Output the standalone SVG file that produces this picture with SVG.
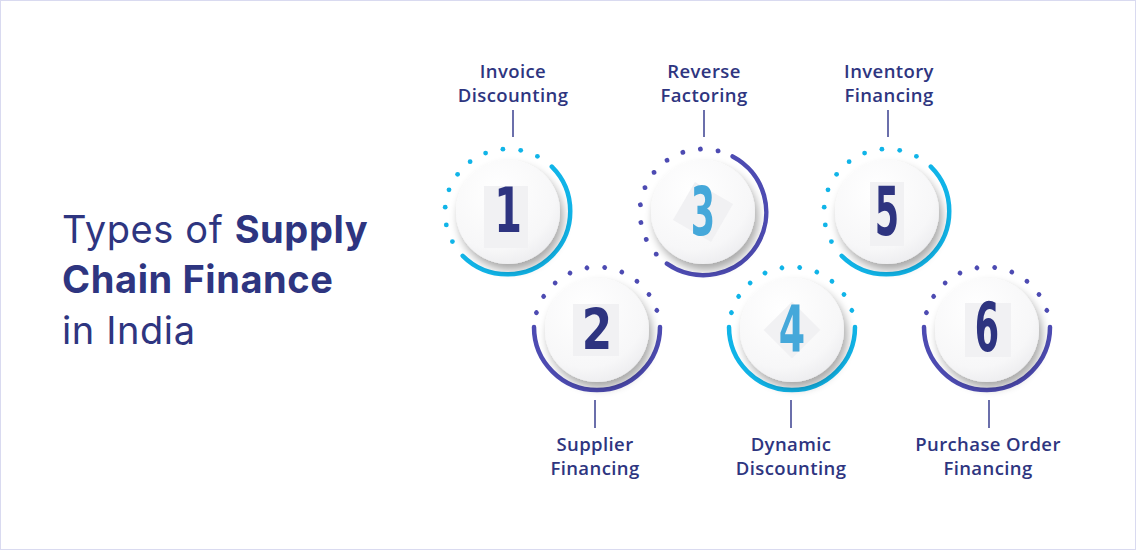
<svg xmlns="http://www.w3.org/2000/svg" width="1136" height="550" viewBox="0 0 1136 550">
<defs>
<radialGradient id="face" cx="0.4" cy="0.3" r="0.8"><stop offset="0" stop-color="#ffffff"/><stop offset="0.7" stop-color="#f7f7f8"/><stop offset="1" stop-color="#e9e9ec"/></radialGradient>
<filter id="sh" x="-40%" y="-40%" width="180%" height="180%"><feGaussianBlur in="SourceAlpha" stdDeviation="5"/><feOffset dx="3" dy="6"/><feComponentTransfer><feFuncA type="linear" slope="0.35"/></feComponentTransfer><feMerge><feMergeNode/><feMergeNode in="SourceGraphic"/></feMerge></filter>
<g id="dots">
<circle cx="-55.6" cy="29.6" r="2.4"/><circle cx="-61.7" cy="12.9" r="2.4"/><circle cx="-62.8" cy="-4.8" r="2.4"/><circle cx="-59" cy="-22.2" r="2.4"/><circle cx="-50.4" cy="-37.7" r="2.4"/><circle cx="-37.9" cy="-50.3" r="2.4"/><circle cx="-22.4" cy="-58.9" r="2.4"/><circle cx="-5.1" cy="-62.8" r="2.4"/><circle cx="12.7" cy="-61.7" r="2.4"/><circle cx="29.4" cy="-55.7" r="2.4"/>
</g>
<g id="face1"><circle r="52" fill="url(#face)" filter="url(#sh)"/></g>
</defs>
<style>
.cy{fill:#10b4e8;stroke:#10b4e8}
.pu{fill:#4d4bb2;stroke:#4d4bb2}
.arc{fill:none;stroke-width:4.5;stroke-linecap:round}
.dt{stroke:none}
.num{font-family:"DejaVu Sans Condensed","DejaVu Sans",sans-serif;font-weight:bold;font-size:54px;text-anchor:middle}
.nv{fill:#2e3480}.lb{fill:#45a8da}
.lab{font-family:"Open Sans",sans-serif;font-weight:600;font-size:18.5px;letter-spacing:0.4px;fill:#2e3580;text-anchor:middle}
.title{font-family:Inter,"Open Sans",sans-serif;font-size:38px;letter-spacing:0.6px;fill:#2e3580}
.ln{stroke:#3a3f8f;stroke-width:1.5}
.pane{fill:#f1f1f3}
</style>
<rect x="0.5" y="0.5" width="1135" height="549" fill="#fff" stroke="#d9daf0"/>
<g id="title">
<text class="title" x="62" y="243">Types of <tspan font-weight="bold">Supply</tspan></text>
<text class="title" x="62" y="293" font-weight="bold">Chain Finance</text>
<text class="title" x="62" y="344">in India</text>
</g>
<g id="connectors">
<line class="ln" x1="513" y1="110" x2="513" y2="137"/>
<line class="ln" x1="704" y1="110" x2="704" y2="137"/>
<line class="ln" x1="888" y1="110" x2="888" y2="137"/>
<line class="ln" x1="595" y1="400" x2="595" y2="428"/>
<line class="ln" x1="791" y1="400" x2="791" y2="428"/>
<line class="ln" x1="989" y1="400" x2="989" y2="428"/>
</g>
<g id="n1" transform="translate(508,212)">
<use href="#dots" class="cy dt"/>
<path class="arc cy" d="M43.8,-45.3 A63,63 0 1 1 -45.3,43.8" fill="none"/>
<use href="#face1"/><rect class="pane" x="-24" y="-26" width="44" height="62"/>
<text class="num nv" transform="scale(0.82,1.15)" x="0" y="17">1</text>
</g>
<g id="n2" transform="translate(597,330)">
<use href="#dots" class="pu dt" transform="rotate(44)"/>
<path class="arc pu" d="M63,-3 A63,63 0 1 1 -63,-3" fill="none"/>
<use href="#face1"/><rect class="pane" x="-24" y="-26" width="46" height="52"/>
<text class="num nv" transform="scale(0.9,1.05)" x="0" y="19">2</text>
</g>
<g id="n3" transform="translate(703,212)">
<use href="#dots" class="pu dt" transform="rotate(-14)"/>
<path class="arc pu" d="M29.6,-55.6 A63,63 0 1 1 -36.1,51.6" fill="none"/>
<use href="#face1"/><rect class="pane" x="-22" y="-22" width="44" height="44" transform="rotate(30)"/>
<text class="num lb" transform="scale(0.72,1.25)" x="0" y="18">3</text>
</g>
<g id="n4" transform="translate(792,330)">
<use href="#dots" class="cy dt" transform="rotate(44)"/>
<path class="arc cy" d="M63,-3 A63,63 0 1 1 -63,-3" fill="none"/>
<use href="#face1"/><rect class="pane" x="-20" y="-20" width="40" height="40" transform="rotate(45)"/>
<text class="num lb" transform="scale(0.78,1.2)" x="0" y="18">4</text>
</g>
<g id="n5" transform="translate(887,212)">
<use href="#dots" class="cy dt"/>
<path class="arc cy" d="M43.8,-45.3 A63,63 0 1 1 -45.3,43.8" fill="none"/>
<use href="#face1"/><rect class="pane" x="-17" y="-30" width="34" height="64"/>
<text class="num nv" transform="scale(0.72,1.25)" x="0" y="18">5</text>
</g>
<g id="n6" transform="translate(987,330)">
<use href="#dots" class="pu dt" transform="rotate(44)"/>
<path class="arc pu" d="M63,-3 A63,63 0 1 1 -63,-3" fill="none"/>
<use href="#face1"/><rect class="pane" x="-22" y="-27" width="46" height="54"/>
<text class="num nv" transform="scale(0.72,1.25)" x="0" y="17">6</text>
</g>
<g id="labels">
<text class="lab" x="513" y="78">Invoice</text><text class="lab" x="513" y="102">Discounting</text>
<text class="lab" x="704" y="78">Reverse</text><text class="lab" x="704" y="102">Factoring</text>
<text class="lab" x="889" y="78">Inventory</text><text class="lab" x="889" y="102">Financing</text>
<text class="lab" x="595" y="451">Supplier</text><text class="lab" x="595" y="475">Financing</text>
<text class="lab" x="791" y="451">Dynamic</text><text class="lab" x="791" y="475">Discounting</text>
<text class="lab" x="988" y="451">Purchase Order</text><text class="lab" x="988" y="475">Financing</text>
</g>
</svg>
